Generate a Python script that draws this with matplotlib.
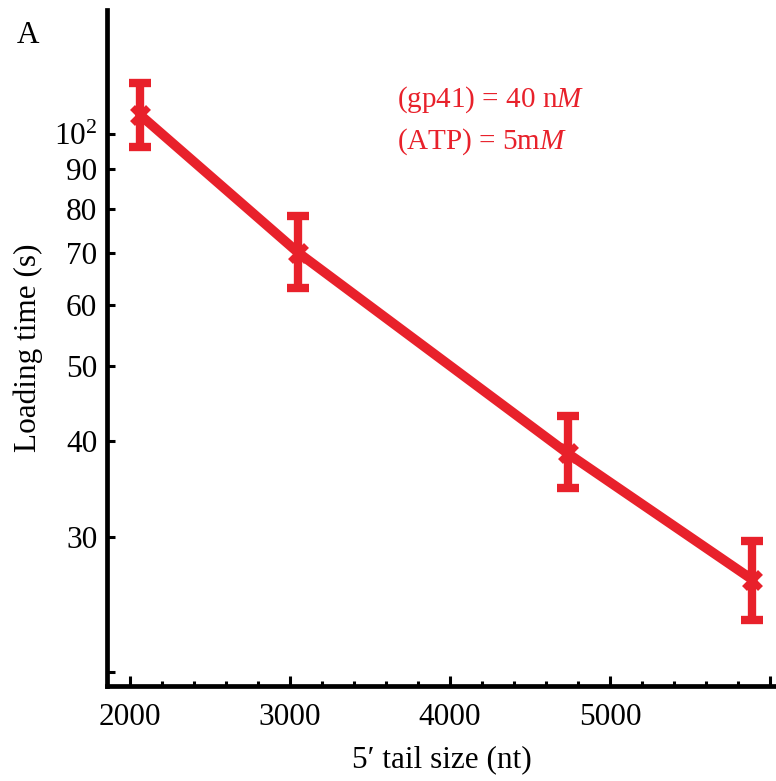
import matplotlib

matplotlib.use("Agg")

import matplotlib.pyplot as plt
from matplotlib.ticker import FixedLocator, MultipleLocator, NullLocator

plt.rcParams["font.family"] = ["Liberation Serif", "DejaVu Serif"]
plt.rcParams["mathtext.fontset"] = "custom"
plt.rcParams["mathtext.rm"] = "Liberation Serif"
plt.rcParams["mathtext.it"] = "Liberation Serif:italic"

RED = "#E8212B"
FS = 22.5

tail_size = [2064, 3050, 4735, 5889]          # nt
loading_time = [105.9, 70.2, 38.5, 26.4]      # s
err_low = [96.2, 63.2, 34.7, 23.4]
err_high = [116.6, 78.4, 43.0, 29.6]

y_ticks = [20, 30, 40, 50, 60, 70, 80, 90, 100]
y_tick_labels = ["", "30", "40", "50", "60", "70", "80", "90", r"10$^2$"]
x_ticks = [2000, 3000, 4000, 5000, 6000]
x_tick_labels = ["2000", "3000", "4000", "5000", ""]

fig = plt.figure(figsize=(7.76, 7.81), dpi=100)
ax = fig.add_axes([107 / 776, 95 / 781, 669 / 776, 676 / 781])

yerr = [
    [v - lo for v, lo in zip(loading_time, err_low)],
    [hi - v for v, hi in zip(loading_time, err_high)],
]
ax.plot(tail_size, loading_time, color=RED, lw=7, solid_capstyle="round",
        solid_joinstyle="round", zorder=2)
ax.errorbar(tail_size, loading_time, yerr=yerr, fmt="none", ecolor=RED,
            elinewidth=6, capsize=8, capthick=6, zorder=3)
ax.plot(tail_size, loading_time, "x", color=RED, ms=12, mew=5, zorder=4)

ax.set_yscale("log")
ax.set_ylim(19.2, 145)
ax.set_xlim(1856, 6037)

ax.yaxis.set_major_locator(FixedLocator(y_ticks))
ax.yaxis.set_minor_locator(NullLocator())
ax.set_yticklabels(y_tick_labels)
ax.xaxis.set_major_locator(FixedLocator(x_ticks))
ax.xaxis.set_minor_locator(MultipleLocator(200))
ax.set_xticklabels(x_tick_labels)

for side in ("top", "right"):
    ax.spines[side].set_visible(False)
for side in ("left", "bottom"):
    ax.spines[side].set_linewidth(3.4)

ax.tick_params(axis="y", which="major", direction="in", length=6, width=2.2,
               labelsize=FS, pad=7)
ax.tick_params(axis="x", which="major", direction="in", length=7.5, width=2.2,
               labelsize=FS, pad=12)
ax.tick_params(axis="x", which="minor", direction="in", length=3.5, width=2.2)

ax.set_xlabel("5\u2032 tail size (nt)", fontsize=FS, labelpad=10)
ax.set_ylabel("Loading time (s)", fontsize=FS, labelpad=8)

ax.text(0.433, 0.867, r"(gp41) = 40 n$\mathit{M}$", transform=ax.transAxes,
        color=RED, fontsize=21, va="center", ha="left")
ax.text(0.433, 0.805, r"(ATP) = 5m$\mathit{M}$", transform=ax.transAxes,
        color=RED, fontsize=21, va="center", ha="left")

fig.text(0.022, 0.954, "A", fontsize=FS, va="center", ha="left")

fig.savefig("out.png", dpi=100)
plt.close(fig)
